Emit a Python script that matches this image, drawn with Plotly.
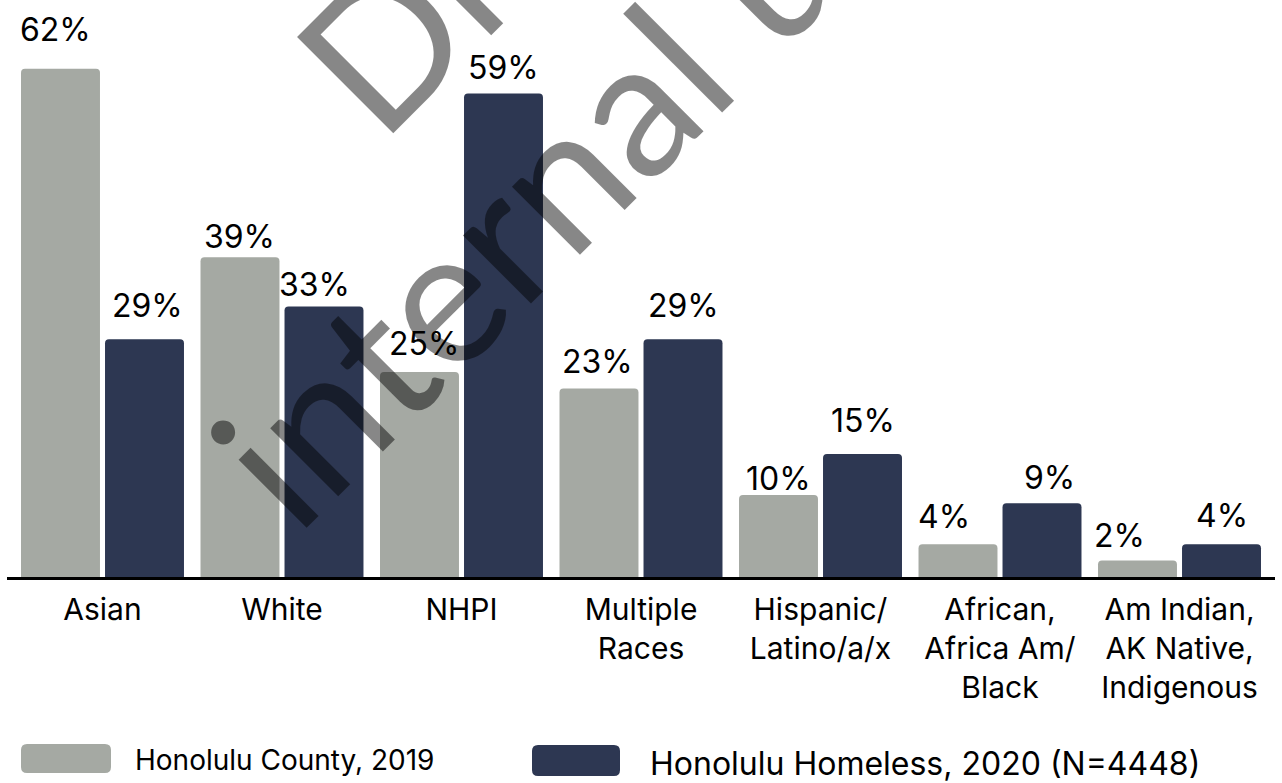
import plotly.graph_objects as go

# ---- data -------------------------------------------------------------
categories = [
    "Asian",
    "White",
    "NHPI",
    "Multiple<br>Races",
    "Hispanic/<br>Latino/a/x",
    "African,<br>Africa Am/<br>Black",
    "Am Indian,<br>AK Native,<br>Indigenous",
]
county_2019 = [62, 39, 25, 23, 10, 4, 2]
homeless_2020 = [29, 33, 59, 29, 15, 9, 4]
series_names = ["Honolulu County, 2019", "Honolulu Homeless, 2020 (N=4448)"]

# ---- styling ----------------------------------------------------------
W, H = 1282, 783
M_L, M_R, M_T, M_B = 7, 7, 0, 206
PLOT_W, PLOT_H = W - M_L - M_R, H - M_T - M_B
GRAY = "#a5a9a3"
NAVY = "#2d3752"
FONT = "Inter"
BARGAP = 0.064
GROUPGAP = 0.06
X_RANGE = [-0.532, 6.532]
Y_RANGE = [0, 70.4]

# value-label placement tweaks in px (dx, dy) for each series
county_nudge = [(-5, 12), (0, -6), (5, 2), (-1, 0), (0, -10), (-14, 1), (-18, -2)]
homeless_nudge = [(3, 7), (-10, -5), (0, -1), (0, 7), (0, 7), (7, -1), (0, 2)]
LABEL_GAP = 27


def px_x(px):
    return (px - M_L) / PLOT_W


def px_y(py):
    return (H - M_B - py) / PLOT_H


def rounded_rect(x0, y0, x1, y1, r):
    """SVG path (paper coords) for a rounded rectangle given in pixels."""
    X, Y = px_x, px_y
    return " ".join([
        f"M{X(x0 + r)},{Y(y0)}",
        f"L{X(x1 - r)},{Y(y0)}",
        f"Q{X(x1)},{Y(y0)} {X(x1)},{Y(y0 + r)}",
        f"L{X(x1)},{Y(y1 - r)}",
        f"Q{X(x1)},{Y(y1)} {X(x1 - r)},{Y(y1)}",
        f"L{X(x0 + r)},{Y(y1)}",
        f"Q{X(x0)},{Y(y1)} {X(x0)},{Y(y1 - r)}",
        f"L{X(x0)},{Y(y0 + r)}",
        f"Q{X(x0)},{Y(y0)} {X(x0 + r)},{Y(y0)}",
        "Z",
    ])


fig = go.Figure()
fig.add_trace(go.Bar(x=categories, y=county_2019, name=series_names[0],
                     marker=dict(color=GRAY, cornerradius=4, line=dict(width=0))))
fig.add_trace(go.Bar(x=categories, y=homeless_2020, name=series_names[1],
                     marker=dict(color=NAVY, cornerradius=4, line=dict(width=0))))

# value labels above each bar
cat_px = PLOT_W / (X_RANGE[1] - X_RANGE[0])
half_slot = cat_px * (1 - BARGAP) / 4
annotations = []
for series, nudges, side in ((county_2019, county_nudge, -1), (homeless_2020, homeless_nudge, 1)):
    for cat, val, (dx, dy) in zip(categories, series, nudges):
        annotations.append(dict(
            x=cat, y=val, xref="x", yref="y", text=f"{val}%", showarrow=False,
            xanchor="center", yanchor="middle",
            xshift=side * half_slot + dx, yshift=LABEL_GAP + dy,
            font=dict(family=FONT, size=32, color="black"),
        ))

# legend: swatches and labels
legend_items = [
    (series_names[0], GRAY, (21, 744, 111, 773), 133, 760, 28),
    (series_names[1], NAVY, (532, 745, 620, 776), 648, 763, 32),
]
shapes = []
for name, color, (x0, y0, x1, y1), tx, ty, fs in legend_items:
    shapes.append(dict(type="path", xref="paper", yref="paper",
                       path=rounded_rect(x0, y0, x1, y1, 6),
                       fillcolor=color, line=dict(width=0)))
    annotations.append(dict(x=px_x(tx), y=px_y(ty), xref="paper", yref="paper",
                            text=name, showarrow=False, xanchor="left", yanchor="middle",
                            font=dict(family=FONT, size=fs, color="black")))

# diagonal watermark
for text, cx, cy in (("Draft for", 584, -162), ("internal use only", 730, 0)):
    annotations.append(dict(x=px_x(cx), y=px_y(cy), xref="paper", yref="paper",
                            text=text, showarrow=False, textangle=-45,
                            xanchor="center", yanchor="middle",
                            font=dict(family="Lato", size=190,
                                      color="rgba(0,0,0,0.47)")))

fig.update_layout(
    width=W, height=H,
    margin=dict(l=M_L, r=M_R, t=M_T, b=M_B, pad=0),
    paper_bgcolor="white", plot_bgcolor="white",
    barmode="group", bargap=BARGAP, bargroupgap=GROUPGAP,
    showlegend=False,
    font=dict(family=FONT, color="black"),
    annotations=annotations, shapes=shapes,
)
fig.update_xaxes(range=X_RANGE, showline=True, linecolor="black", linewidth=3,
                 ticks="", showgrid=False, zeroline=False,
                 tickfont=dict(family=FONT, size=30, color="black"),
                 ticklabelstandoff=4)
fig.update_yaxes(range=Y_RANGE, visible=False, showgrid=False, zeroline=False)

fig.write_html("out.html")
